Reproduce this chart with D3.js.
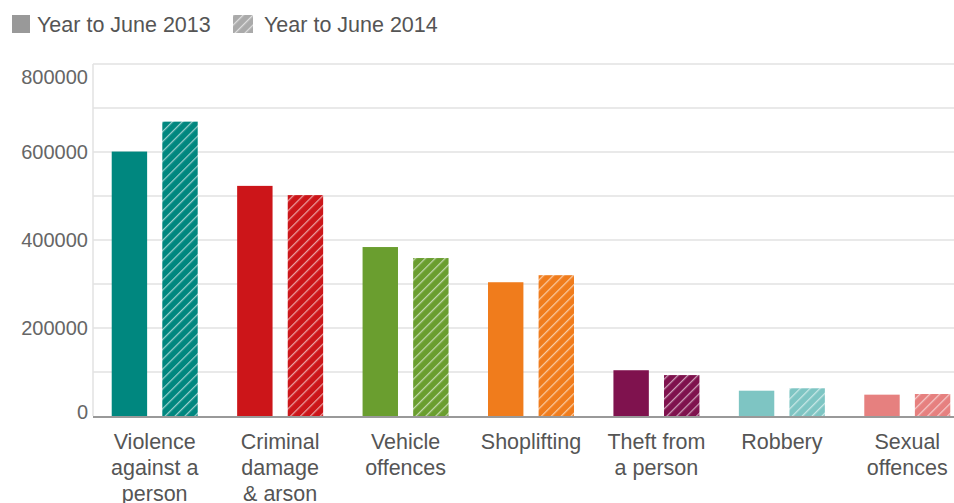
<html>
<head>
<script src="https://d3js.org/d3.v7.min.js"></script>
<style>
  body { margin: 0; background: #fff; }
  text { font-family: "Liberation Sans", Arial, sans-serif; }
</style>
</head>
<body>
<svg id="svg" width="954" height="503"></svg>
<script>
// DATA
const categories = ["Violence against a person", "Criminal damage & arson", "Vehicle offences",
  "Shoplifting", "Theft from a person", "Robbery", "Sexual offences"]
const labelLines = [["Violence", "against a", "person"], ["Criminal", "damage", "& arson"],
  ["Vehicle", "offences"], ["Shoplifting"], ["Theft from", "a person"], ["Robbery"], ["Sexual", "offences"]]
const series = ["Year to June 2013", "Year to June 2014"]
const values2013 = [601000, 523000, 384000, 304000, 104000, 57500, 48500]
const values2014 = [669000, 502000, 359000, 320000, 93000, 63000, 50000]
const colors = ["#00877f", "#cc1519", "#6a9e2f", "#f07c1c", "#7f124e", "#7ec5c3", "#e6807f"]
const yTicks = [0, 200000, 400000, 600000, 800000]

const svg = d3.select("#svg")
const plotTop = 64, plotBottom = 416, plotLeft = 93, plotRight = 954

const y = d3.scaleLinear().domain([0, 800000]).range([plotBottom, plotTop])
const x = d3.scaleBand().domain(categories).range([92, 970])
const inner = d3.scaleBand().domain(series).range([-43, 43]).paddingInner(0.3)

// hatch patterns
const defs = svg.append("defs")
colors.concat(["#aaa"]).forEach((c, i) => {
  const p = defs.append("pattern")
    .attr("id", "hatch" + i)
    .attr("patternUnits", "userSpaceOnUse")
    .attr("width", 7).attr("height", 7)
    .attr("patternTransform", "rotate(45)")
  p.append("rect").attr("width", 7).attr("height", 7).attr("fill", c)
  p.append("line").attr("x1", 0).attr("y1", 0).attr("x2", 0).attr("y2", 7)
    .attr("stroke", "#fff").attr("stroke-opacity", 0.6).attr("stroke-width", 2.5)
})

// grid
svg.append("g").selectAll("line")
  .data(d3.range(100000, 800001, 100000))
  .join("line")
  .attr("x1", plotLeft).attr("x2", plotRight)
  .attr("y1", d => y(d)).attr("y2", d => y(d))
  .attr("stroke", "#e2e2e2").attr("stroke-width", 1.5)
svg.append("line").attr("x1", plotLeft).attr("x2", plotLeft).attr("y1", plotTop).attr("y2", plotBottom)
  .attr("stroke", "#e2e2e2").attr("stroke-width", 1.5)

// y labels
svg.append("g").selectAll("text")
  .data(yTicks)
  .join("text")
  .attr("x", 88).attr("text-anchor", "end")
  .attr("y", d => d === 800000 ? y(d) + 20 : d === 0 ? y(d) + 3 : y(d) + 7)
  .attr("fill", "#666").attr("font-size", 20)
  .text(d => d)

// bars
const groups = svg.append("g").selectAll("g")
  .data(categories)
  .join("g")
  .attr("transform", d => `translate(${x(d) + x.bandwidth() / 2},0)`)

groups.append("rect")
  .attr("x", inner(series[0])).attr("width", inner.bandwidth())
  .attr("y", (d, i) => y(values2013[i])).attr("height", (d, i) => plotBottom - y(values2013[i]))
  .attr("fill", (d, i) => colors[i])
groups.append("rect")
  .attr("x", inner(series[1])).attr("width", inner.bandwidth())
  .attr("y", (d, i) => y(values2014[i])).attr("height", (d, i) => plotBottom - y(values2014[i]))
  .attr("fill", (d, i) => `url(#hatch${i})`)

// axis line
svg.append("line").attr("x1", plotLeft).attr("x2", plotRight).attr("y1", plotBottom + 1).attr("y2", plotBottom + 1)
  .attr("stroke", "#999").attr("stroke-width", 2)

// x labels
groups.append("text")
  .attr("text-anchor", "middle").attr("fill", "#555").attr("font-size", 21.5)
  .selectAll("tspan")
  .data((d, i) => labelLines[i])
  .join("tspan")
  .attr("x", 0)
  .attr("y", (d, j) => 449 + j * 26)
  .text(d => d)

// legend
const legend = svg.append("g")
legend.append("rect").attr("x", 12).attr("y", 15).attr("width", 18).attr("height", 18).attr("fill", "#999")
legend.append("text").attr("x", 37).attr("y", 32).attr("font-size", 21.5).attr("fill", "#555").text(series[0])
legend.append("rect").attr("x", 233).attr("y", 15).attr("width", 20).attr("height", 18).attr("fill", "url(#hatch7)")
legend.append("text").attr("x", 264).attr("y", 32).attr("font-size", 21.5).attr("fill", "#555").text(series[1])
</script>
</body>
</html>
